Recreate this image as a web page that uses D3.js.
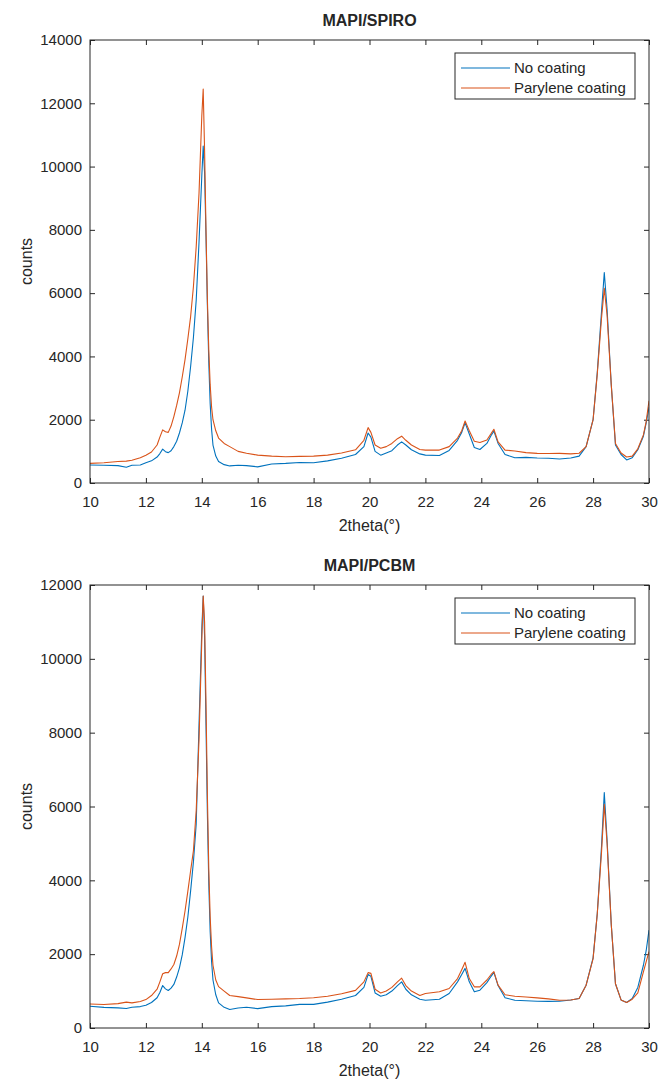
<!DOCTYPE html>
<html>
<head>
<meta charset="utf-8">
<script src="https://cdn.jsdelivr.net/npm/d3@7"></script>
<style>
  body { margin: 0; background: #fff; }
  text { font-family: "Liberation Sans", Arial, sans-serif; fill: #262626; }
</style>
</head>
<body>
<div id="chart"></div>
<script>
// Data
const twoTheta = [10, 10.5, 11, 11.3, 11.5, 11.8, 12, 12.2, 12.4, 12.5, 12.6, 12.7, 12.8, 12.9, 13, 13.1, 13.2, 13.3, 13.4, 13.5,
    13.6, 13.7, 13.8, 13.9, 14, 14.05, 14.1, 14.15, 14.2, 14.25, 14.3, 14.35, 14.4, 14.5, 14.6, 14.8, 15, 15.3, 15.6, 16,
    16.5, 17, 17.5, 18, 18.5, 19, 19.5, 19.8, 19.95, 20.05, 20.2, 20.4, 20.6, 20.8, 21, 21.15, 21.3, 21.5, 21.8, 22,
    22.5, 22.85, 23.15, 23.3, 23.42, 23.57, 23.75, 23.95, 24.2, 24.35, 24.45, 24.6, 24.85, 25.2, 25.6, 26, 26.4, 26.8, 27.2, 27.5,
    27.75, 28, 28.15, 28.3, 28.4, 28.5, 28.65, 28.8, 29, 29.2, 29.4, 29.6, 29.8, 29.9, 30];

// MAPI/SPIRO
const spiroNone = [570, 560, 550, 500, 560, 570, 640, 700, 820, 930, 1070, 990, 960, 1020, 1150, 1320, 1580, 1900, 2300, 2900,
    3680, 4600, 5780, 7600, 9700, 10650, 9800, 7800, 5600, 3800, 2500, 1700, 1200, 850, 680, 580, 540, 560, 550, 510,
    600, 620, 650, 640, 700, 780, 900, 1150, 1580, 1450, 1000, 880, 950, 1020, 1200, 1300, 1200, 1050, 920, 880,
    870, 1030, 1350, 1600, 1900, 1550, 1120, 1060, 1250, 1500, 1640, 1250, 900, 800, 810, 790, 780, 760, 790, 850,
    1150, 2000, 3500, 5400, 6650, 5500, 3100, 1200, 900, 730, 800, 1050, 1480, 1900, 2400];
const spiroParylene = [620, 640, 680, 690, 720, 800, 880, 980, 1200, 1450, 1680, 1620, 1600, 1800, 2100, 2450, 2850, 3350, 3900, 4550,
    5260, 6200, 7470, 9150, 11600, 12450, 10500, 8000, 5800, 4200, 3100, 2400, 2000, 1650, 1420, 1250, 1150, 1000, 940, 880,
    850, 830, 840, 850, 880, 950, 1050, 1350, 1750, 1600, 1200, 1100, 1150, 1250, 1400, 1480, 1350, 1200, 1060, 1040,
    1040, 1150, 1420, 1650, 1960, 1650, 1320, 1280, 1360, 1560, 1700, 1300, 1040, 1010, 960, 935, 930, 935, 920, 940,
    1150, 2000, 3450, 5200, 6150, 5300, 3100, 1250, 950, 820, 850, 1080, 1520, 1950, 2600];

// MAPI/PCBM
const pcbmNone = [590, 560, 545, 530, 560, 580, 615, 690, 820, 960, 1150, 1060, 1015, 1080, 1180, 1380, 1630, 1980, 2450, 3000,
    3715, 4500, 5530, 8200, 10800, 11700, 10600, 8200, 5800, 3900, 2600, 1800, 1300, 900, 680, 560, 500, 540, 560, 525,
    580, 600, 640, 640, 700, 780, 880, 1100, 1450, 1400, 950, 860, 900, 1000, 1150, 1250, 1050, 900, 780, 750,
    780, 935, 1250, 1450, 1615, 1250, 980, 1025, 1230, 1400, 1505, 1150, 820, 750, 740, 725, 720, 725, 760, 800,
    1160, 1900, 3100, 4900, 6380, 5100, 2800, 1200, 760, 690, 800, 1100, 1700, 2100, 2650];
const pcbmParylene = [650, 635, 660, 700, 680, 720, 770, 880, 1050, 1250, 1470, 1500, 1500, 1600, 1720, 1950, 2265, 2700, 3170, 3700,
    4260, 4800, 5900, 7800, 10500, 11700, 11000, 8800, 6300, 4300, 3000, 2200, 1700, 1300, 1120, 1000, 880, 850, 815, 770,
    780, 790, 800, 820, 860, 930, 1020, 1250, 1500, 1480, 1050, 950, 1000, 1100, 1250, 1350, 1150, 1000, 880, 935,
    980, 1070, 1340, 1580, 1780, 1340, 1115, 1115, 1300, 1450, 1525, 1160, 900, 860, 840, 815, 790, 750, 760, 800,
    1160, 1880, 3100, 4750, 6060, 5000, 2800, 1200, 760, 690, 780, 950, 1520, 1800, 2070];

const seriesNames = ["No coating", "Parylene coating"];
const seriesColors = ["#0072BD", "#D95319"];
const xTicks = [10, 12, 14, 16, 18, 20, 22, 24, 26, 28, 30];

const panels = [
    {title: "MAPI/SPIRO", yMax: 14000, series: [spiroNone, spiroParylene]},
    {title: "MAPI/PCBM", yMax: 12000, series: [pcbmNone, pcbmParylene]}
];

const chartWidth = 660;
const chartHeight = 1079;
const panelHeight = 545;
const plotLeft = 90, plotRight = 649, plotTop = 40, plotBottom = 483;
const axisColor = "#262626";

const svg = d3.select("#chart")
    .append("svg")
    .attr("width", chartWidth)
    .attr("height", chartHeight);

svg.append("rect")
    .attr("width", chartWidth)
    .attr("height", chartHeight)
    .attr("fill", "#fff");

const xScale = d3.scaleLinear()
    .domain([10, 30])
    .range([plotLeft, plotRight]);

panels.forEach((p, pi) => {
    const g = svg.append("g")
        .attr("transform", "translate(0," + (pi * panelHeight) + ")");

    const yScale = d3.scaleLinear()
        .domain([0, p.yMax])
        .range([plotBottom, plotTop]);
    const yTicks = d3.range(0, p.yMax + 1, 2000);

    // axes with inward ticks, mirrored on top/right
    const axes = [
        {ax: d3.axisBottom(xScale).tickValues(xTicks).tickPadding(13), tr: [0, plotBottom]},
        {ax: d3.axisTop(xScale).tickValues(xTicks).tickFormat(""), tr: [0, plotTop]},
        {ax: d3.axisLeft(yScale).tickValues(yTicks).tickFormat(d3.format("d")).tickPadding(8), tr: [plotLeft, 0]},
        {ax: d3.axisRight(yScale).tickValues(yTicks).tickFormat(""), tr: [plotRight, 0]}
    ];
    axes.forEach(a => {
        const ag = g.append("g")
            .attr("transform", "translate(" + a.tr[0] + "," + a.tr[1] + ")")
            .call(a.ax.tickSize(-5).tickSizeOuter(0));
        ag.select(".domain").remove();
        ag.selectAll("line").attr("stroke", axisColor);
        ag.selectAll("text")
            .attr("fill", axisColor)
            .style("font-family", "'Liberation Sans', Arial, sans-serif")
            .style("font-size", "15px");
    });

    // data lines
    const line = d3.line()
        .x((d, i) => xScale(twoTheta[i]))
        .y(d => yScale(d));

    const clipId = "clip" + pi;
    g.append("clipPath").attr("id", clipId)
        .append("rect")
        .attr("x", plotLeft).attr("y", plotTop)
        .attr("width", plotRight - plotLeft).attr("height", plotBottom - plotTop);

    p.series.forEach((s, si) => {
        g.append("path")
            .datum(s)
            .attr("clip-path", "url(#" + clipId + ")")
            .attr("fill", "none")
            .attr("stroke", seriesColors[si])
            .attr("stroke-width", 1.1)
            .attr("stroke-linejoin", "round")
            .attr("d", line);
    });

    // box
    g.append("rect")
        .attr("x", plotLeft).attr("y", plotTop)
        .attr("width", plotRight - plotLeft).attr("height", plotBottom - plotTop)
        .attr("fill", "none")
        .attr("stroke", axisColor)
        .attr("stroke-width", 1);

    // title and labels
    g.append("text")
        .attr("x", (plotLeft + plotRight) / 2).attr("y", 26)
        .attr("text-anchor", "middle")
        .style("font-size", "16px")
        .style("font-weight", "bold")
        .text(p.title);

    g.append("text")
        .attr("x", (plotLeft + plotRight) / 2).attr("y", 531)
        .attr("text-anchor", "middle")
        .style("font-size", "16px")
        .text("2theta(°)");

    g.append("text")
        .attr("transform", "translate(32," + ((plotTop + plotBottom) / 2) + ") rotate(-90)")
        .attr("text-anchor", "middle")
        .style("font-size", "16px")
        .text("counts");

    // legend
    const lg = g.append("g").attr("transform", "translate(455,53)");
    lg.append("rect")
        .attr("width", 180).attr("height", 46)
        .attr("fill", "#fff")
        .attr("stroke", axisColor)
        .attr("stroke-width", 1);
    seriesNames.forEach((name, si) => {
        const yy = 15 + si * 20;
        lg.append("line")
            .attr("x1", 6).attr("x2", 55)
            .attr("y1", yy).attr("y2", yy)
            .attr("stroke", seriesColors[si])
            .attr("stroke-width", 1.2);
        lg.append("text")
            .attr("x", 59).attr("y", yy + 5)
            .style("font-size", "15px")
            .text(name);
    });
});
</script>
</body>
</html>
